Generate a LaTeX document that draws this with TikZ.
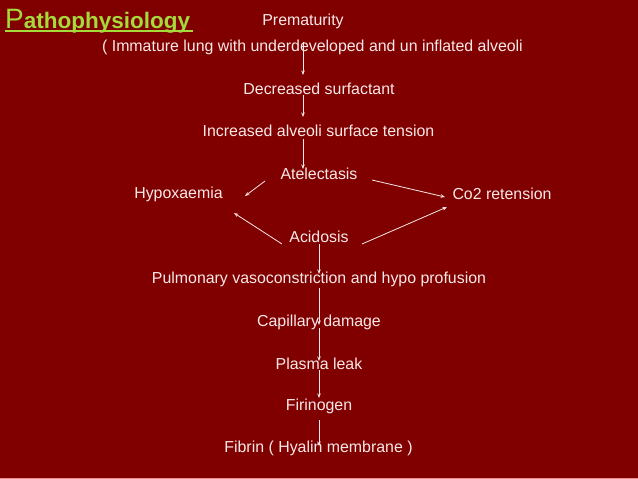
\documentclass[tikz,border=0pt]{standalone}
\usepackage{fontspec}
\setmainfont{Liberation Sans}
\usetikzlibrary{arrows.meta}
\definecolor{bgred}{HTML}{800000}
\definecolor{txt}{HTML}{F8E8E8}
\definecolor{ttl}{HTML}{A6D93A}
\definecolor{edge}{HTML}{E89090}
\begin{document}
\begin{tikzpicture}[x=1pt,y=-1pt,
  lbl/.style={text=txt,font=\fontsize{15.9}{18}\selectfont,inner sep=0pt,anchor=center},
  arr/.style={draw=txt,line width=0.8pt,-{Stealth[length=4.5pt,width=3.5pt]}}]
\fill[bgred] (0,0) rectangle (638,479);
\useasboundingbox (0,0) rectangle (638,479);
\draw[edge,line width=1pt] (0,478) -- (638,478);
% title
\node[anchor=base west,inner sep=0pt,text=ttl] (title) at (5,28)
  {\fontsize{28}{30}\selectfont P\fontsize{22.5}{25}\selectfont\bfseries athophysiology};
\draw[ttl,line width=1.3pt] (5,31) -- (193,31);
% labels
\node[lbl] (prem) at (303,21) {Prematurity};
\node[lbl] (imm) at (312.5,47) {( Immature lung with underdeveloped and un inflated alveoli};
\node[lbl] (dec) at (319,89) {Decreased surfactant};
\node[lbl] (inc) at (318.5,131) {Increased alveoli surface tension};
\node[lbl] (atel) at (319,174) {Atelectasis};
\node[lbl] (hypo) at (178.5,194) {Hypoxaemia};
\node[lbl] (co2) at (502,194) {Co2 retension};
\node[lbl] (acid) at (319,237) {Acidosis};
\node[lbl] (pulm) at (319,279) {Pulmonary vasoconstriction and hypo profusion};
\node[lbl] (cap) at (319,322) {Capillary damage};
\node[lbl] (plas) at (319,364) {Plasma leak};
\node[lbl] (firi) at (319,406) {Firinogen};
\node[lbl] (fib) at (318.5,448) {Fibrin ( Hyalin membrane )};
% connector end points
\coordinate (a1s) at (303,42);  \coordinate (a1e) at (303,75);
\coordinate (a2s) at (303,95);  \coordinate (a2e) at (303,117);
\coordinate (a3s) at (303,139); \coordinate (a3e) at (303,169);
\coordinate (b1s) at (265,181); \coordinate (b1e) at (245,196);
\coordinate (b2s) at (372,180); \coordinate (b2e) at (445,197);
\coordinate (b3s) at (282,244); \coordinate (b3e) at (234,213);
\coordinate (b4s) at (362,244); \coordinate (b4e) at (447,207);
\coordinate (c1s) at (319,244); \coordinate (c1e) at (319,274);
\coordinate (c2s) at (319,288); \coordinate (c2e) at (319,325);
\coordinate (c3s) at (319,328); \coordinate (c3e) at (319,361);
\coordinate (c4s) at (319,370); \coordinate (c4e) at (319,398);
\coordinate (c5s) at (319,420); \coordinate (c5e) at (319,446);
\draw[arr] (a1s) -- (a1e);
\draw[arr] (a2s) -- (a2e);
\draw[arr] (a3s) -- (a3e);
\draw[arr] (b1s) -- (b1e);
\draw[arr] (b2s) -- (b2e);
\draw[arr] (b3s) -- (b3e);
\draw[arr] (b4s) -- (b4e);
\draw[arr] (c1s) -- (c1e);
\draw[arr] (c2s) -- (c2e);
\draw[arr] (c3s) -- (c3e);
\draw[arr] (c4s) -- (c4e);
\draw[arr] (c5s) -- (c5e);
\end{tikzpicture}
\end{document}
